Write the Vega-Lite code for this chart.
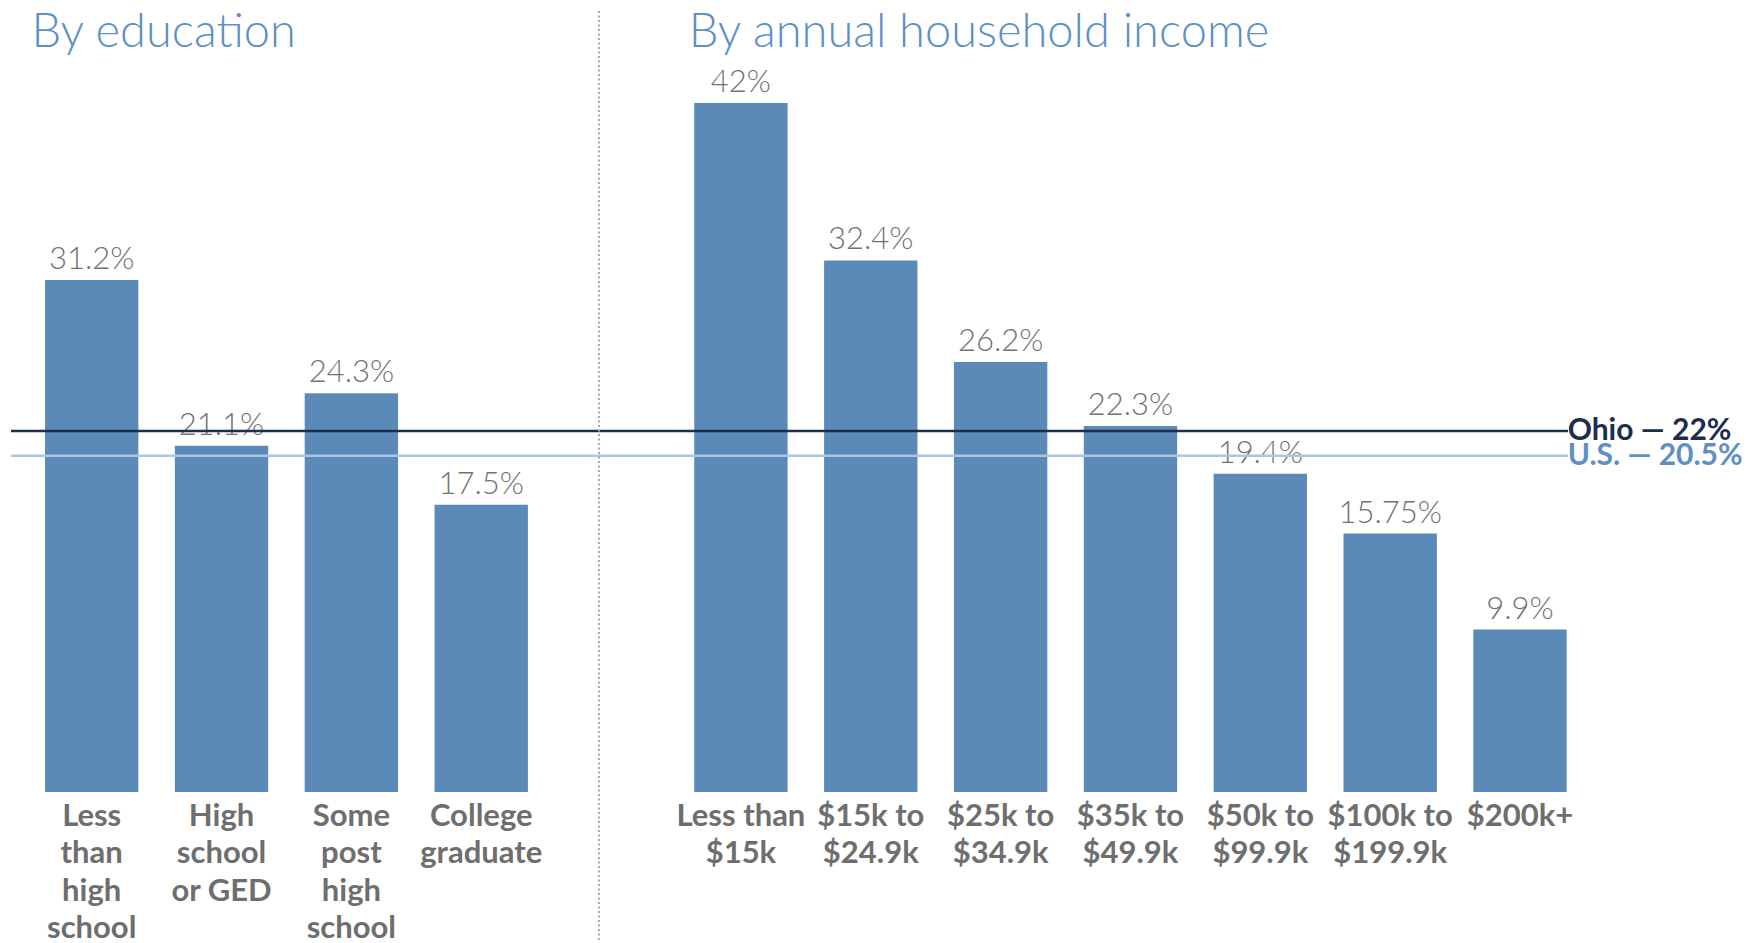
{
  "$schema": "https://vega.github.io/schema/vega-lite/v6.json",
  "width": 1557,
  "height": 781,
  "autosize": {"type": "none"},
  "padding": {"left": 11, "top": 11, "right": 191, "bottom": 151},
  "background": "white",
  "config": {"view": {"stroke": null}, "font": "Lato"},
  "datasets": {
    "bars": [
      {"cat": "Less|than|high|school", "value": 31.2},
      {"cat": "High|school|or GED", "value": 21.1},
      {"cat": "Some|post|high|school", "value": 24.3},
      {"cat": "College|graduate", "value": 17.5},
      {"cat": "Less than|$15k", "value": 42},
      {"cat": "$15k to|$24.9k", "value": 32.4},
      {"cat": "$25k to|$34.9k", "value": 26.2},
      {"cat": "$35k to|$49.9k", "value": 22.3},
      {"cat": "$50k to|$99.9k", "value": 19.4},
      {"cat": "$100k to|$199.9k", "value": 15.75},
      {"cat": "$200k+", "value": 9.9}
    ],
    "refs": [
      {"name": "Ohio", "value": 22, "label": "Ohio — 22%"},
      {"name": "U.S.", "value": 20.5, "label": "U.S. — 20.5%"}
    ],
    "one": [{}]
  },
  "encoding": {
    "x": {
      "field": "cat",
      "type": "nominal",
      "sort": null,
      "scale": {
        "type": "band",
        "domain": ["Less|than|high|school", "High|school|or GED", "Some|post|high|school", "College|graduate", "gap", "Less than|$15k", "$15k to|$24.9k", "$25k to|$34.9k", "$35k to|$49.9k", "$50k to|$99.9k", "$100k to|$199.9k", "$200k+"],
        "paddingInner": 0.281,
        "paddingOuter": 0.136,
        "align": 0.963
      },
      "axis": {
        "title": null,
        "domain": false,
        "ticks": false,
        "labelAngle": 0,
        "labelFont": "Lato",
        "labelFontWeight": "bold",
        "labelFontSize": 31,
        "labelColor": "#6e6e6e",
        "labelLineHeight": 37.5,
        "labelBaseline": "top",
        "labelPadding": 9,
        "labelLimit": 0,
        "labelExpr": "datum.value == 'gap' ? '' : split(datum.value, '|')"
      }
    }
  },
  "resolve": {"scale": {"color": "independent"}},
  "layer": [
    {
      "data": {"name": "bars"},
      "mark": {"type": "bar", "color": "#5b8ab8"},
      "encoding": {
        "y": {"field": "value", "type": "quantitative", "scale": {"domain": [0, 47.6], "nice": false, "zero": true}, "axis": null}
      }
    },
    {
      "data": {"name": "bars"},
      "transform": [{"calculate": "datum.value + '%'", "as": "lbl"}],
      "mark": {"type": "text", "baseline": "alphabetic", "dy": -11, "fontSize": 31, "fontWeight": 300, "color": "#727272", "font": "Lato"},
      "encoding": {
        "y": {"field": "value", "type": "quantitative"},
        "text": {"field": "lbl"}
      }
    },
    {
      "data": {"name": "refs"},
      "mark": {"type": "rule", "strokeWidth": 2.5},
      "encoding": {
        "x": null,
        "y": {"field": "value", "type": "quantitative"},
        "color": {"field": "name", "type": "nominal", "scale": {"domain": ["Ohio", "U.S."], "range": ["#1c2d4d", "#a9c6e6"]}, "legend": null}
      }
    },
    {
      "data": {"name": "refs"},
      "mark": {"type": "text", "align": "left", "baseline": "middle", "dx": 1, "fontSize": 30, "fontWeight": "bold", "font": "Lato"},
      "encoding": {
        "x": {"datum": "$200k+", "type": "nominal", "bandPosition": 1},
        "y": {"field": "value", "type": "quantitative"},
        "text": {"field": "label"},
        "color": {"field": "name", "type": "nominal", "scale": {"domain": ["Ohio", "U.S."], "range": ["#1c2d4d", "#5f8fc4"]}, "legend": null}
      }
    },
    {
      "data": {"name": "one"},
      "mark": {"type": "rule", "strokeWidth": 2, "strokeDash": [2, 2.5], "color": "#92abc9"},
      "encoding": {
        "x": {"datum": "gap", "type": "nominal", "bandPosition": 0.37},
        "y": {"datum": 47.6, "type": "quantitative"},
        "y2": {"datum": -9}
      }
    },
    {
      "data": {"name": "one"},
      "mark": {"type": "text", "align": "left", "baseline": "alphabetic", "dx": -13.6, "fontSize": 47, "fontWeight": 300, "color": "#5d90c6", "font": "Lato"},
      "encoding": {
        "x": {"datum": "Less|than|high|school", "type": "nominal", "bandPosition": 0},
        "y": {"datum": 45.4, "type": "quantitative"},
        "text": {"value": "By education"}
      }
    },
    {
      "data": {"name": "one"},
      "mark": {"type": "text", "align": "left", "baseline": "alphabetic", "dx": -5.5, "fontSize": 47, "fontWeight": 300, "color": "#5d90c6", "font": "Lato"},
      "encoding": {
        "x": {"datum": "Less than|$15k", "type": "nominal", "bandPosition": 0},
        "y": {"datum": 45.4, "type": "quantitative"},
        "text": {"value": "By annual household income"}
      }
    }
  ]
}
